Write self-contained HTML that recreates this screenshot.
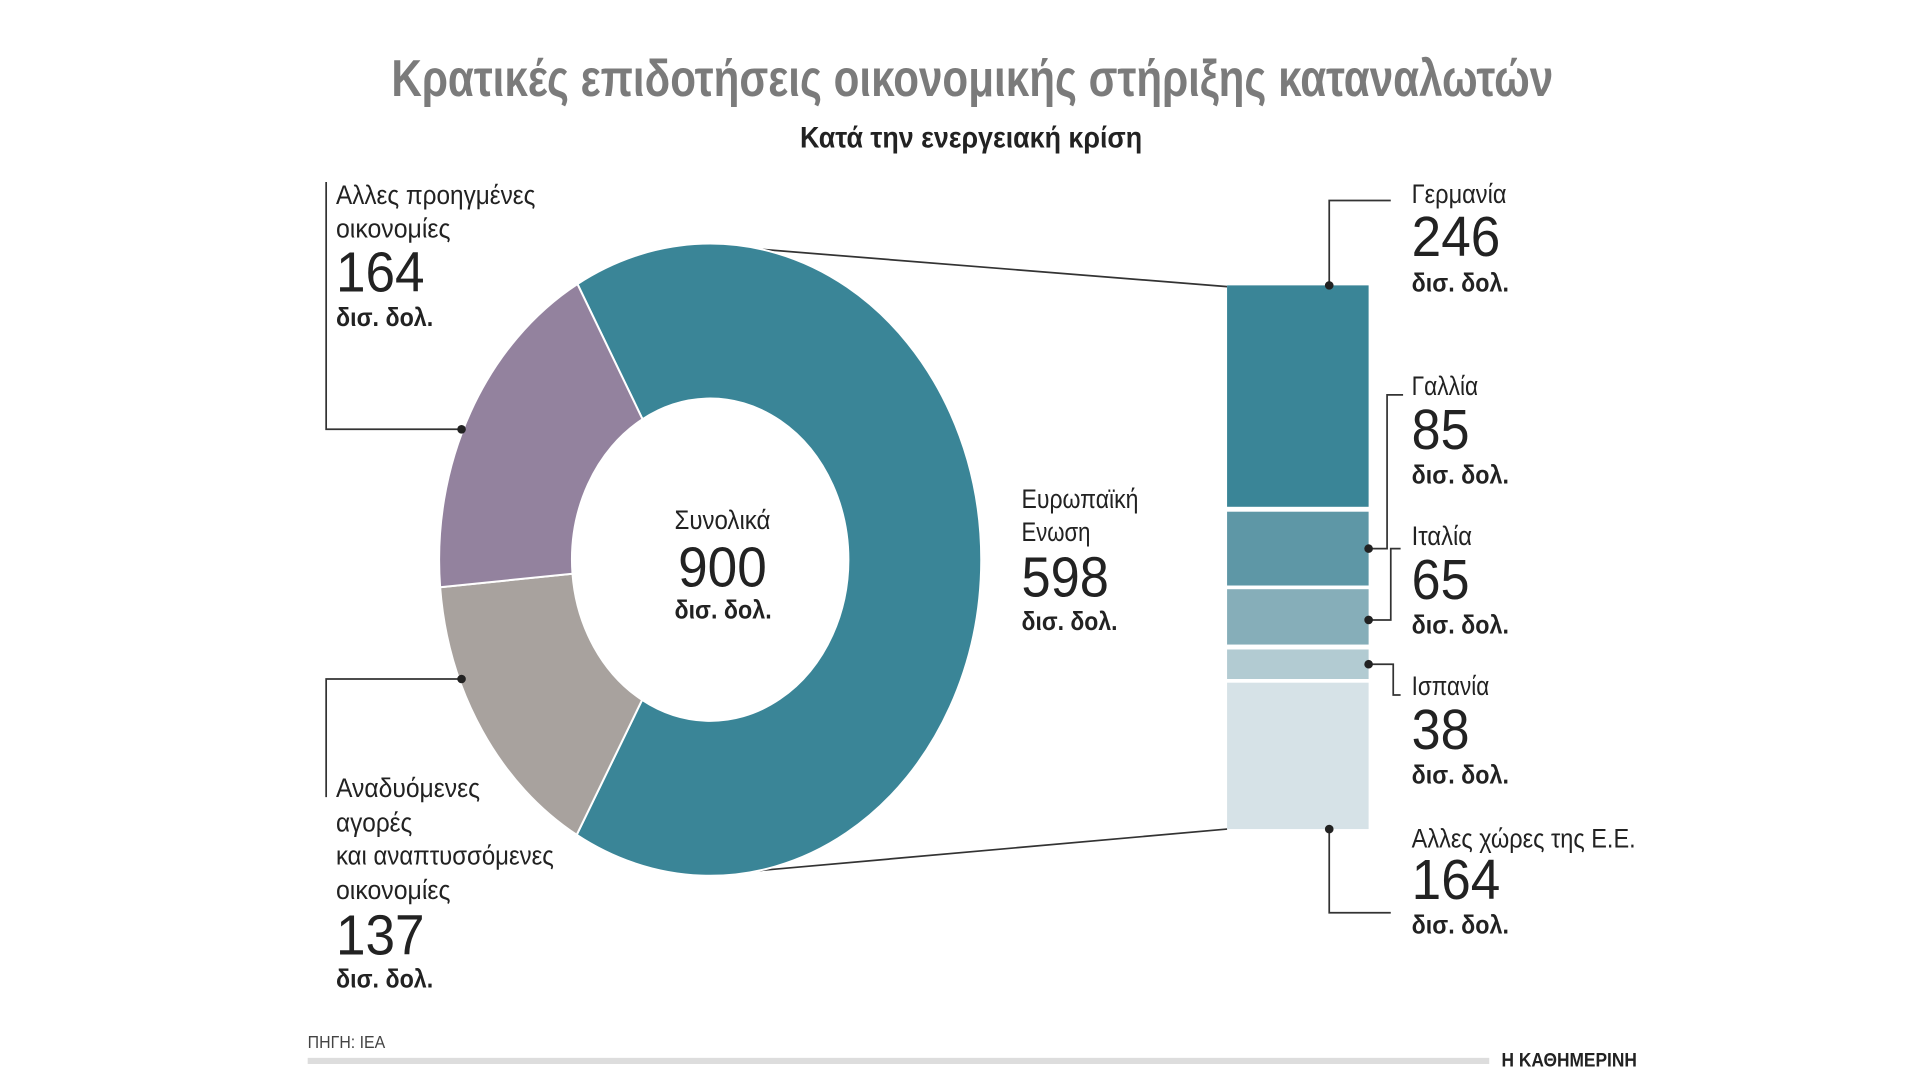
<!DOCTYPE html>
<html><head><meta charset="utf-8"><style>
html,body{margin:0;padding:0;background:#fff;width:1920px;height:1080px;overflow:hidden}
svg{display:block}
text{font-family:"Liberation Sans",sans-serif;fill:#222}
.l{font-size:22px}
.n{font-size:46px}
.b{font-size:21px;font-weight:bold}
</style></head><body>
<svg width="1920" height="1080" viewBox="0 0 1560 878" preserveAspectRatio="none" xmlns="http://www.w3.org/2000/svg">
<rect width="1560" height="878" fill="#fff"/>
<text x="318" y="78" font-size="42" font-weight="bold" fill="#7b7b7b" style="fill:#7b7b7b" textLength="944" lengthAdjust="spacingAndGlyphs">Κρατικές επιδοτήσεις οικονομικής στήριξης καταναλωτών</text>
<text x="650" y="120" font-size="24" font-weight="bold" textLength="278" lengthAdjust="spacingAndGlyphs">Κατά την ενεργειακή κρίση</text>

<g stroke="#333" stroke-width="1.4" fill="none">
<line x1="572" y1="199" x2="997" y2="233"/>
<line x1="580" y1="711" x2="997" y2="674"/>
<polyline points="265,148 265,349 375,349"/>
<polyline points="375,552 265,552 265,648"/>
<polyline points="1080,232 1080,163 1130,163"/>
<polyline points="1140,321 1127,321 1127,446 1112,446"/>
<polyline points="1112,504 1130,504 1130,446 1138,446"/>
<polyline points="1112,540 1132,540 1132,565 1138,565"/>
<polyline points="1080,674 1080,742 1130,742"/>
</g>

<g transform="translate(577,455) scale(0.857,1)">
<path d="M -125.8 -224.1 A257 257 0 1 1 -126.5 223.7 L -64.5 114.0 A131 131 0 1 0 -64.1 -114.2 Z" fill="#3a8597" stroke="#fff" stroke-width="2" vector-effect="non-scaling-stroke"/>
<path d="M -126.5 223.7 A257 257 0 0 1 -256 22.4 L -130.5 11.4 A131 131 0 0 0 -64.5 114 Z" fill="#a8a29e" stroke="#fff" stroke-width="2" vector-effect="non-scaling-stroke"/>
<path d="M -256 22.4 A257 257 0 0 1 -125.8 -224.1 L -64.1 -114.2 A131 131 0 0 0 -130.5 11.4 Z" fill="#93829e" stroke="#fff" stroke-width="2" vector-effect="non-scaling-stroke"/>
</g>

<rect x="997" y="232" width="115" height="180" fill="#3a8597"/>
<rect x="997" y="416" width="115" height="60" fill="#5e97a6"/>
<rect x="997" y="479" width="115" height="45" fill="#86aeb9"/>
<rect x="997" y="528" width="115" height="24" fill="#b2cbd2"/>
<rect x="997" y="555" width="115" height="119" fill="#d6e2e7"/>

<g fill="#222">
<circle cx="375" cy="349" r="3.5"/><circle cx="375" cy="552" r="3.5"/>
<circle cx="1080" cy="232" r="3.5"/><circle cx="1112" cy="446" r="3.5"/>
<circle cx="1112" cy="504" r="3.5"/><circle cx="1112" cy="540" r="3.5"/>
<circle cx="1080" cy="674" r="3.5"/>
</g>

<text class="l" x="273" y="166" textLength="162" lengthAdjust="spacingAndGlyphs">Αλλες προηγμένες</text>
<text class="l" x="273" y="193" textLength="93" lengthAdjust="spacingAndGlyphs">οικονομίες</text>
<text class="n" x="273" y="237" textLength="72" lengthAdjust="spacingAndGlyphs">164</text>
<text class="b" x="273" y="265" textLength="79" lengthAdjust="spacingAndGlyphs">δισ. δολ.</text>

<text class="l" x="548" y="430" textLength="78" lengthAdjust="spacingAndGlyphs">Συνολικά</text>
<text class="n" x="551" y="477" textLength="72" lengthAdjust="spacingAndGlyphs">900</text>
<text class="b" x="548" y="503" textLength="79" lengthAdjust="spacingAndGlyphs">δισ. δολ.</text>

<text class="l" x="830" y="413" textLength="95" lengthAdjust="spacingAndGlyphs">Ευρωπαϊκή</text>
<text class="l" x="830" y="440" textLength="56" lengthAdjust="spacingAndGlyphs">Ενωση</text>
<text class="n" x="830" y="485" textLength="71" lengthAdjust="spacingAndGlyphs">598</text>
<text class="b" x="830" y="512" textLength="78" lengthAdjust="spacingAndGlyphs">δισ. δολ.</text>

<text class="l" x="273" y="648" textLength="117" lengthAdjust="spacingAndGlyphs">Αναδυόμενες</text>
<text class="l" x="273" y="676" textLength="62" lengthAdjust="spacingAndGlyphs">αγορές</text>
<text class="l" x="273" y="703" textLength="177" lengthAdjust="spacingAndGlyphs">και αναπτυσσόμενες</text>
<text class="l" x="273" y="731" textLength="93" lengthAdjust="spacingAndGlyphs">οικονομίες</text>
<text class="n" x="273" y="776" textLength="72" lengthAdjust="spacingAndGlyphs">137</text>
<text class="b" x="273" y="803" textLength="79" lengthAdjust="spacingAndGlyphs">δισ. δολ.</text>

<text class="l" x="1147" y="165" textLength="77" lengthAdjust="spacingAndGlyphs">Γερμανία</text>
<text class="n" x="1147" y="208" textLength="72" lengthAdjust="spacingAndGlyphs">246</text>
<text class="b" x="1147" y="237" textLength="79" lengthAdjust="spacingAndGlyphs">δισ. δολ.</text>

<text class="l" x="1147" y="321" textLength="54" lengthAdjust="spacingAndGlyphs">Γαλλία</text>
<text class="n" x="1147" y="365" textLength="47" lengthAdjust="spacingAndGlyphs">85</text>
<text class="b" x="1147" y="393" textLength="79" lengthAdjust="spacingAndGlyphs">δισ. δολ.</text>

<text class="l" x="1147" y="443" textLength="49" lengthAdjust="spacingAndGlyphs">Ιταλία</text>
<text class="n" x="1147" y="487" textLength="47" lengthAdjust="spacingAndGlyphs">65</text>
<text class="b" x="1147" y="515" textLength="79" lengthAdjust="spacingAndGlyphs">δισ. δολ.</text>

<text class="l" x="1147" y="565" textLength="63" lengthAdjust="spacingAndGlyphs">Ισπανία</text>
<text class="n" x="1147" y="609" textLength="47" lengthAdjust="spacingAndGlyphs">38</text>
<text class="b" x="1147" y="637" textLength="79" lengthAdjust="spacingAndGlyphs">δισ. δολ.</text>

<text class="l" x="1147" y="689" textLength="182" lengthAdjust="spacingAndGlyphs">Αλλες χώρες της Ε.Ε.</text>
<text class="n" x="1147" y="731" textLength="72" lengthAdjust="spacingAndGlyphs">164</text>
<text class="b" x="1147" y="759" textLength="79" lengthAdjust="spacingAndGlyphs">δισ. δολ.</text>

<text x="250" y="852" font-size="14" fill="#444" style="fill:#444" textLength="63" lengthAdjust="spacingAndGlyphs">ΠΗΓΗ: IEA</text>
<rect x="250" y="860" width="960" height="5" fill="#ddd"/>
<text x="1220" y="867" font-size="16" font-weight="bold" textLength="110" lengthAdjust="spacingAndGlyphs">Η ΚΑΘΗΜΕΡΙΝΗ</text>
</svg>
</body></html>
